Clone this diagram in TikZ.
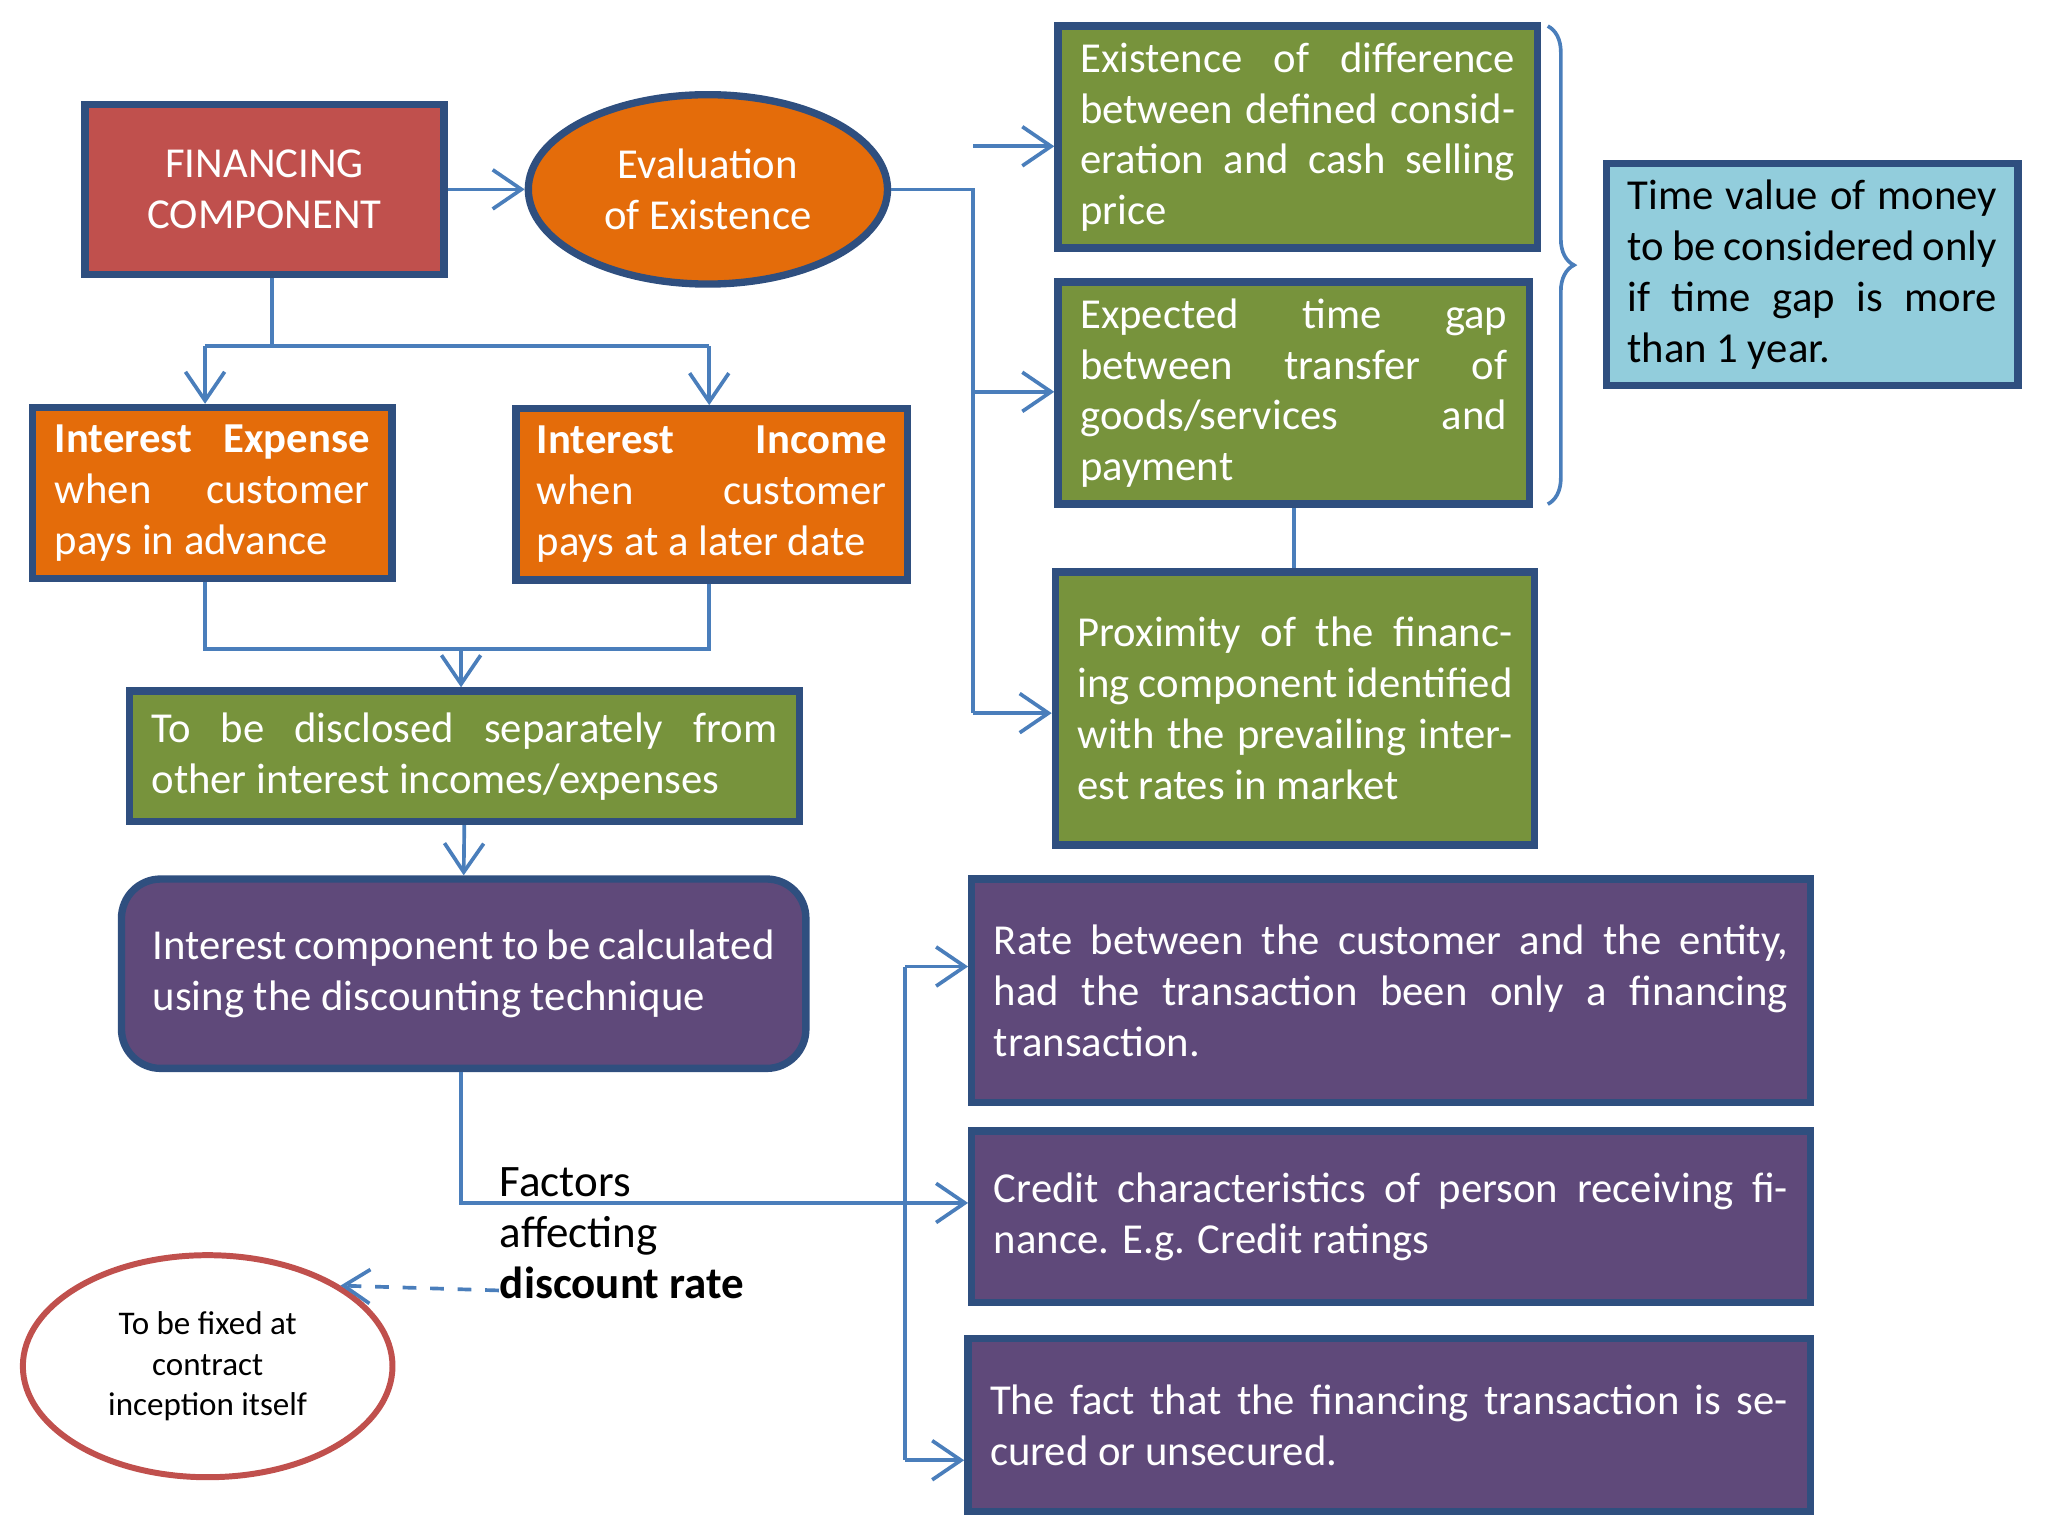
\documentclass[tikz,border=0pt]{standalone}
\usepackage{fontspec}
\setmainfont{Carlito}
\usetikzlibrary{shapes.geometric,decorations.pathreplacing,arrows.meta}
\definecolor{edgeblue}{HTML}{2F4F7F}
\definecolor{lineblue}{HTML}{4A7EBB}
\definecolor{finred}{HTML}{C0504D}
\definecolor{orng}{HTML}{E46C0A}
\definecolor{grn}{HTML}{77933C}
\definecolor{purp}{HTML}{5F497A}
\definecolor{lblue}{HTML}{92CDDC}
\tikzset{
  box/.style={draw=edgeblue, line width=1.6pt, text=white, inner sep=0pt,
    font=\fontsize{9.3}{11.1}\selectfont, align=justify},
  link/.style={draw=lineblue, line width=0.8pt},
  arr/.style={link, -{Straight Barb[length=2.2mm,width=3mm]}},
}
\begin{document}
\begin{tikzpicture}
\useasboundingbox (0,0) rectangle (15.68,-11.76);
% Cajas de la parte izquierda
\node[box, fill=finred, align=center, minimum width=2.75cm, minimum height=1.30cm] (fin) at (2.025,-1.45) {FINANCING\\COMPONENT};
\node[box, fill=orng, ellipse, align=center, minimum width=2.75cm, minimum height=1.45cm] (eval) at (5.42,-1.45) {Evaluation\\of Existence};
\node[box, fill=orng, minimum width=2.75cm, minimum height=1.31cm, text width=2.41cm] (iexp) at (1.625,-3.775) {\textbf{Interest Expense} when customer pays in advance};
\node[box, fill=orng, minimum width=3.00cm, minimum height=1.31cm, text width=2.68cm] (iinc) at (5.45,-3.785) {\textbf{Interest Income} when customer pays at a later date};
\node[box, fill=grn, minimum width=5.13cm, minimum height=1.00cm, text width=4.79cm] (discl) at (3.555,-5.79) {To be disclosed separately from other interest incomes/expenses};
\node[box, fill=purp, rounded corners=0.3cm, minimum width=5.24cm, minimum height=1.45cm, text width=4.76cm] (icomp) at (3.55,-7.455) {Interest component to be calculated using the discounting technique};
\node[draw=finred, line width=1.3pt, ellipse, minimum width=2.83cm, minimum height=1.70cm, align=center, font=\fontsize{7.2}{8.8}\selectfont] (fixed) at (1.59,-10.46) {To be fixed at\\contract\\inception itself};
\node[anchor=north west, align=left, inner sep=0pt, font=\fontsize{9.8}{11.1}\selectfont] (fact) at (3.82,-8.93) {Factors\\affecting\\\textbf{discount rate}};
% Cajas de la derecha
\node[box, fill=grn, minimum width=3.67cm, minimum height=1.70cm, text width=3.33cm] (g1) at (9.935,-1.05) {Existence of difference between defined consideration and cash selling price};
\node[box, fill=grn, minimum width=3.61cm, minimum height=1.70cm, text width=3.27cm] (g2) at (9.905,-3.01) {Expected time gap between transfer of goods/services and payment};
\node[box, fill=grn, minimum width=3.67cm, minimum height=2.09cm, text width=3.33cm] (g3) at (9.915,-5.425) {Proximity of the financing component identified with the prevailing interest rates in market};
\node[box, fill=lblue, text=black, minimum width=3.15cm, minimum height=1.70cm, text width=2.83cm] (tv) at (13.875,-2.10) {Time value of money to be considered only if time gap is more than 1 year.};
\node[box, fill=purp, minimum width=6.42cm, minimum height=1.71cm, text width=6.08cm] (p1) at (10.65,-7.585) {Rate between the customer and the entity, had the transaction been only a financing transaction.};
\node[box, fill=purp, minimum width=6.42cm, minimum height=1.31cm, text width=6.08cm] (p2) at (10.65,-9.315) {Credit characteristics of person receiving finance. E.g. Credit ratings};
\node[box, fill=purp, minimum width=6.45cm, minimum height=1.32cm, text width=6.11cm] (p3) at (10.635,-10.91) {The fact that the financing transaction is secured or unsecured.};
% Puntos de union
\coordinate (jtop) at (2.08,-2.65);
\coordinate (jl) at (1.57,-2.65);
\coordinate (jr) at (5.43,-2.65);
\coordinate (jbl) at (1.57,-4.97);
\coordinate (jbr) at (5.43,-4.97);
\coordinate (jbm) at (3.53,-4.97);
\coordinate (ev) at (7.45,-1.45);
\coordinate (v1) at (7.45,-1.12);
\coordinate (v2) at (7.45,-3.00);
\coordinate (v3) at (7.45,-5.46);
\coordinate (fk) at (3.53,-9.21);
\coordinate (fh) at (6.93,-9.21);
\coordinate (q1) at (6.93,-7.40);
\coordinate (q3) at (6.93,-11.18);
% Conectores
\draw[arr] (fin.east) -- (eval.west);
\draw[link] (eval.east) -- (ev) -- (v3);
\draw[arr] (v1) -- (v1 -| g1.west);
\draw[arr] (v2) -- (v2 -| g2.west);
\draw[arr] (v3) -- (v3 -| g3.west);
\draw[link] (g2.south) -- (g2.south |- g3.north);
\draw[link] (fin.south -| jtop) -- (jtop);
\draw[link] (jl) -- (jr);
\draw[arr] (jl) -- (jl |- iexp.north);
\draw[arr] (jr) -- (jr |- iinc.north);
\draw[link] (iexp.south -| jbl) -- (jbl) -- (jbr) -- (iinc.south -| jbr);
\draw[arr] (jbm) -- (jbm |- discl.north);
\draw[arr] (discl.south) -- (icomp.north);
\draw[link] (icomp.south -| fk) -- (fk) -- (fh);
\draw[arr] (fh) -- (fh -| p2.west);
\draw[link] (q1) -- (q3);
\draw[arr] (q1) -- (q1 -| p1.west);
\draw[arr] (q3) -- (q3 -| p3.west);
\draw[link, dashed, -{Straight Barb[length=2mm,width=2.6mm]}] (fact.west |- 0,-9.88) -- (fixed.north east);
\draw[link, decorate, decoration={brace, amplitude=0.2cm}] (11.85,-0.20) -- (11.85,-3.86);
\end{tikzpicture}
\end{document}
